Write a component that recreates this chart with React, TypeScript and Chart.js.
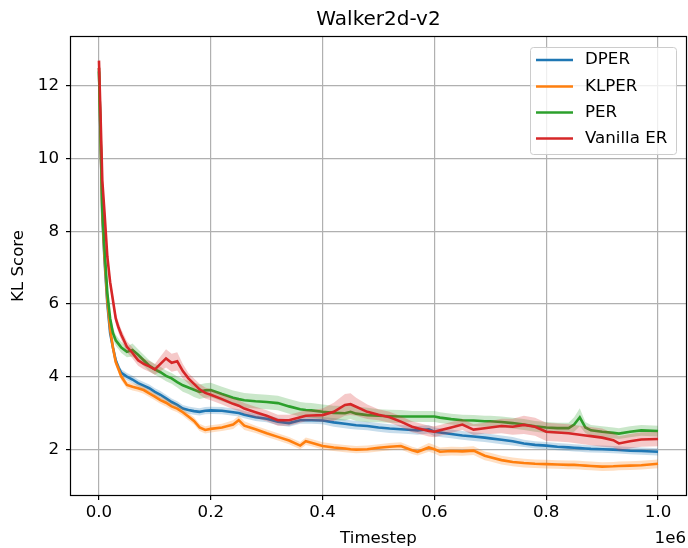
import React, { useEffect, useRef } from "react";
import { Chart, registerables } from "chart.js";
Chart.register(...registerables);

const timesteps = [
  0, 3000, 6000, 10000, 15000, 20000, 25000, 30000, 35000, 40000,
  50000, 60000, 70000, 80000, 90000, 100000, 110000, 120000, 130000, 140000,
  150000, 160000, 170000, 180000, 190000, 200000, 220000, 240000, 250000, 260000,
  280000, 300000, 320000, 340000, 360000, 370000, 380000, 400000, 420000, 440000,
  450000, 460000, 480000, 500000, 520000, 540000, 560000, 570000, 590000, 600000,
  610000, 630000, 650000, 670000, 690000, 700000, 720000, 740000, 760000, 780000,
  800000, 820000, 840000, 850000, 860000, 870000, 880000, 900000, 920000, 930000,
  950000, 970000, 1000000,
];

const dperMean = [
  12.5, 10.5, 8.4, 7.2, 6.0, 5.2, 4.8, 4.45, 4.25, 4.1,
  4.0, 3.92, 3.82, 3.75, 3.68, 3.58, 3.5, 3.4, 3.3, 3.22,
  3.12, 3.08, 3.05, 3.03, 3.06, 3.07, 3.06, 3.02, 3.0, 2.95,
  2.88, 2.84, 2.76, 2.72, 2.8, 2.8, 2.8, 2.79, 2.74, 2.7,
  2.68, 2.66, 2.64, 2.6, 2.57, 2.55, 2.53, 2.52, 2.55, 2.48,
  2.46, 2.42, 2.38, 2.35, 2.32, 2.3, 2.26, 2.22, 2.16, 2.12,
  2.1, 2.07, 2.05, 2.04, 2.03, 2.02, 2.01, 2.0, 1.99, 1.98,
  1.96, 1.95, 1.93,
];
const dperStd = [
  0.1, 0.3, 0.3, 0.25, 0.2, 0.15, 0.12, 0.1, 0.1, 0.1,
  0.1, 0.1, 0.1, 0.1, 0.1, 0.1, 0.1, 0.1, 0.1, 0.1,
  0.1, 0.1, 0.1, 0.1, 0.1, 0.1, 0.1, 0.1, 0.1, 0.1,
  0.1, 0.1, 0.1, 0.1, 0.1, 0.1, 0.1, 0.1, 0.12, 0.12,
  0.12, 0.12, 0.12, 0.12, 0.12, 0.12, 0.12, 0.12, 0.12, 0.12,
  0.12, 0.12, 0.12, 0.12, 0.12, 0.12, 0.12, 0.12, 0.1, 0.1,
  0.1, 0.1, 0.1, 0.1, 0.1, 0.1, 0.1, 0.1, 0.1, 0.1,
  0.1, 0.1, 0.1,
];

const klperMean = [
  12.5, 10.5, 8.5, 7.3, 6.1, 5.3, 4.8, 4.4, 4.2, 4.0,
  3.77, 3.72, 3.68, 3.63, 3.54, 3.45, 3.35, 3.28, 3.18, 3.12,
  3.02, 2.9, 2.78, 2.6, 2.53, 2.56, 2.6, 2.68, 2.8, 2.65,
  2.55, 2.44, 2.34, 2.24, 2.1, 2.22, 2.18, 2.09, 2.05, 2.02,
  2.0, 1.99, 2.0, 2.04, 2.07, 2.09, 1.97, 1.93, 2.05, 2.0,
  1.93, 1.95, 1.94, 1.96, 1.82, 1.78, 1.7, 1.65, 1.62, 1.6,
  1.59, 1.58, 1.57, 1.57, 1.56, 1.55, 1.54, 1.52, 1.53, 1.54,
  1.55, 1.56, 1.6,
];
const klperStd = [
  0.1, 0.3, 0.3, 0.25, 0.2, 0.15, 0.12, 0.1, 0.1, 0.1,
  0.1, 0.1, 0.1, 0.1, 0.1, 0.1, 0.1, 0.1, 0.1, 0.1,
  0.1, 0.1, 0.1, 0.1, 0.1, 0.1, 0.1, 0.12, 0.12, 0.12,
  0.1, 0.1, 0.1, 0.1, 0.1, 0.1, 0.1, 0.1, 0.1, 0.1,
  0.1, 0.1, 0.1, 0.1, 0.1, 0.1, 0.1, 0.1, 0.12, 0.12,
  0.12, 0.12, 0.12, 0.12, 0.12, 0.12, 0.12, 0.12, 0.12, 0.12,
  0.12, 0.12, 0.12, 0.12, 0.12, 0.12, 0.12, 0.12, 0.12, 0.12,
  0.12, 0.12, 0.12,
];

const perMean = [
  12.4, 10.6, 8.6, 7.5, 6.3, 5.6, 5.2, 5.0, 4.9, 4.8,
  4.68, 4.73, 4.6, 4.45, 4.3, 4.2, 4.12, 4.02, 3.95, 3.85,
  3.76, 3.7, 3.64, 3.58, 3.62, 3.63, 3.52, 3.42, 3.38, 3.35,
  3.32, 3.3, 3.27, 3.18, 3.1, 3.08, 3.07, 3.03, 3.0, 2.99,
  3.03, 2.98, 2.94, 2.92, 2.91, 2.9, 2.9, 2.9, 2.9, 2.9,
  2.87, 2.83, 2.8, 2.79, 2.77, 2.77, 2.75, 2.72, 2.68, 2.63,
  2.6, 2.58, 2.58, 2.68, 2.88, 2.6, 2.52, 2.48, 2.45, 2.43,
  2.48, 2.52, 2.5,
];
const perStd = [
  0.1, 0.3, 0.3, 0.25, 0.2, 0.15, 0.15, 0.15, 0.15, 0.15,
  0.15, 0.18, 0.15, 0.15, 0.15, 0.15, 0.15, 0.15, 0.15, 0.15,
  0.18, 0.18, 0.2, 0.2, 0.2, 0.2, 0.2, 0.2, 0.2, 0.2,
  0.2, 0.2, 0.2, 0.2, 0.2, 0.2, 0.2, 0.2, 0.2, 0.2,
  0.2, 0.2, 0.2, 0.18, 0.18, 0.18, 0.15, 0.15, 0.15, 0.15,
  0.15, 0.15, 0.15, 0.15, 0.15, 0.15, 0.15, 0.15, 0.15, 0.15,
  0.15, 0.15, 0.15, 0.2, 0.25, 0.15, 0.15, 0.15, 0.15, 0.15,
  0.15, 0.15, 0.15,
];

const vanillaMean = [
  12.7, 11.1, 9.4, 8.5, 7.3, 6.6, 6.1, 5.6, 5.35, 5.15,
  4.82, 4.65, 4.45, 4.35, 4.28, 4.2, 4.35, 4.5, 4.38, 4.42,
  4.15, 3.95, 3.8, 3.65, 3.55, 3.5, 3.38, 3.25, 3.2, 3.12,
  3.02, 2.92, 2.8, 2.8, 2.88, 2.92, 2.93, 2.94, 3.03, 3.22,
  3.24, 3.17, 3.03, 2.95, 2.88, 2.76, 2.62, 2.58, 2.5, 2.48,
  2.52, 2.6, 2.68, 2.54, 2.58, 2.6, 2.64, 2.62, 2.67, 2.62,
  2.48, 2.46, 2.44, 2.42, 2.4, 2.38, 2.36, 2.32, 2.25, 2.16,
  2.22, 2.27, 2.28,
];
const vanillaStd = [
  0.1, 0.3, 0.3, 0.25, 0.2, 0.15, 0.15, 0.15, 0.15, 0.15,
  0.15, 0.15, 0.15, 0.15, 0.15, 0.15, 0.2, 0.25, 0.25, 0.25,
  0.2, 0.15, 0.15, 0.15, 0.15, 0.15, 0.15, 0.15, 0.15, 0.15,
  0.15, 0.15, 0.15, 0.15, 0.15, 0.15, 0.15, 0.18, 0.25, 0.3,
  0.3, 0.25, 0.2, 0.15, 0.15, 0.15, 0.15, 0.15, 0.15, 0.15,
  0.15, 0.15, 0.15, 0.15, 0.15, 0.18, 0.2, 0.22, 0.25, 0.25,
  0.25, 0.25, 0.25, 0.25, 0.25, 0.25, 0.25, 0.25, 0.2, 0.2,
  0.2, 0.2, 0.2,
];

const seriesNames = ["DPER", "KLPER", "PER", "Vanilla ER"];
const seriesColors = ["#1f77b4", "#ff7f0e", "#2ca02c", "#d62728"];
const bandColors = [
  "rgba(31,119,180,0.25)",
  "rgba(255,127,14,0.25)",
  "rgba(44,160,44,0.25)",
  "rgba(214,39,40,0.25)",
];
const means = [dperMean, klperMean, perMean, vanillaMean];
const stds = [dperStd, klperStd, perStd, vanillaStd];

const xTickValues = [0, 200000, 400000, 600000, 800000, 1000000];
const yTickValues = [2, 4, 6, 8, 10, 12];

const titleText = "Walker2d-v2";
const xLabel = "Timestep";
const yLabel = "KL Score";
const offsetText = "1e6";

const FONT = "'DejaVu Sans', sans-serif";
const FS = 16.67;

const decoPlugin = {
  id: "deco",
  afterDatasetsDraw(chart: any) {
    const { ctx, chartArea: a } = chart;
    ctx.save();
    ctx.strokeStyle = "#000";
    ctx.lineWidth = 1.2;
    ctx.strokeRect(Math.round(a.left) - 0.5, Math.round(a.top) - 0.5, Math.round(a.right - a.left) + 1, Math.round(a.bottom - a.top) + 1);
    ctx.restore();
  },
  afterDraw(chart: any) {
    const { ctx, chartArea: a } = chart;
    ctx.save();
    ctx.fillStyle = "#000";
    ctx.font = `20px ${FONT}`;
    ctx.textAlign = "center";
    ctx.textBaseline = "middle";
    ctx.fillText(titleText, (a.left + a.right) / 2, 20);
    ctx.font = `${FS}px ${FONT}`;
    ctx.fillText(xLabel, (a.left + a.right) / 2, 539);
    ctx.textAlign = "right";
    ctx.fillText(offsetText, a.right, 539);
    ctx.save();
    ctx.translate(19, (a.top + a.bottom) / 2);
    ctx.rotate(-Math.PI / 2);
    ctx.textAlign = "center";
    ctx.fillText(yLabel, 0, 0);
    ctx.restore();

    // legend
    const bx = 530.5, by = 47.5, bw = 146, bh = 107, r = 3;
    ctx.beginPath();
    ctx.moveTo(bx + r, by);
    ctx.lineTo(bx + bw - r, by);
    ctx.quadraticCurveTo(bx + bw, by, bx + bw, by + r);
    ctx.lineTo(bx + bw, by + bh - r);
    ctx.quadraticCurveTo(bx + bw, by + bh, bx + bw - r, by + bh);
    ctx.lineTo(bx + r, by + bh);
    ctx.quadraticCurveTo(bx, by + bh, bx, by + bh - r);
    ctx.lineTo(bx, by + r);
    ctx.quadraticCurveTo(bx, by, bx + r, by);
    ctx.closePath();
    ctx.fillStyle = "rgba(255,255,255,0.8)";
    ctx.fill();
    ctx.strokeStyle = "#cccccc";
    ctx.lineWidth = 1;
    ctx.stroke();

    const rowY = [60, 86.5, 112.5, 138.5];
    seriesNames.forEach((name, i) => {
      ctx.strokeStyle = seriesColors[i];
      ctx.lineWidth = 2.5;
      ctx.beginPath();
      ctx.moveTo(536, rowY[i]);
      ctx.lineTo(573, rowY[i]);
      ctx.stroke();
      ctx.fillStyle = "#000";
      ctx.font = `${FS}px ${FONT}`;
      ctx.textAlign = "left";
      ctx.textBaseline = "middle";
      ctx.fillText(name, 585, rowY[i]);
    });
    ctx.restore();
  },
};

export default function App() {
  const canvasRef = useRef<HTMLCanvasElement | null>(null);

  useEffect(() => {
    const canvas = canvasRef.current;
    if (!canvas) return;
    const datasets: any[] = [];
    seriesNames.forEach((name, i) => {
      const base = i * 3;
      datasets.push({
        label: name,
        data: timesteps.map((t, k) => ({ x: t, y: means[i][k] })),
        borderColor: seriesColors[i],
        backgroundColor: seriesColors[i],
        borderWidth: 2.6,
        pointRadius: 0,
        tension: 0,
        fill: false,
        order: 100 - base,
      });
      datasets.push({
        label: "_upper",
        data: timesteps.map((t, k) => ({ x: t, y: means[i][k] + stds[i][k] })),
        borderColor: "rgba(0,0,0,0)",
        backgroundColor: bandColors[i],
        borderWidth: 0,
        pointRadius: 0,
        tension: 0,
        fill: { target: "+1" },
        order: 100 - base - 1,
      });
      datasets.push({
        label: "_lower",
        data: timesteps.map((t, k) => ({ x: t, y: means[i][k] - stds[i][k] })),
        borderColor: "rgba(0,0,0,0)",
        backgroundColor: bandColors[i],
        borderWidth: 0,
        pointRadius: 0,
        tension: 0,
        fill: false,
        order: 100 - base - 2,
      });
    });

    const tickFont = { family: "'DejaVu Sans', sans-serif", size: FS };
    const chart = new Chart(canvas, {
      type: "line",
      data: { datasets },
      plugins: [decoPlugin],
      options: {
        animation: false,
        responsive: false,
        devicePixelRatio: 1,
        layout: { autoPadding: false, padding: { top: 37, right: 2, left: 0, bottom: 0 } },
        plugins: {
          legend: { display: false },
          title: { display: false },
          tooltip: { enabled: false },
        },
        scales: {
          x: {
            type: "linear",
            min: -50000,
            max: 1050000,
            afterBuildTicks: (scale: any) => {
              scale.ticks = xTickValues.map((v) => ({ value: v }));
            },
            afterFit: (scale: any) => {
              scale.height = 53;
            },
            ticks: {
              autoSkip: false,
              maxRotation: 0,
              minRotation: 0,
              padding: 3,
              color: "#000",
              font: tickFont,
              callback: (v: any) => (Number(v) / 1e6).toFixed(1),
            },
            grid: {
              color: "#b0b0b0",
              lineWidth: 1.2,
              tickColor: "#000",
              tickLength: 5,
              tickWidth: 1.2,
            },
            border: { display: false },
          },
          y: {
            type: "linear",
            min: 0.74,
            max: 13.35,
            afterBuildTicks: (scale: any) => {
              scale.ticks = yTickValues.map((v) => ({ value: v }));
            },
            afterFit: (scale: any) => {
              scale.width = 71;
            },
            ticks: {
              padding: 7,
              color: "#000",
              font: tickFont,
              callback: (v: any) => String(v),
            },
            grid: {
              color: "#b0b0b0",
              lineWidth: 1.2,
              tickColor: "#000",
              tickLength: 5,
              tickWidth: 1.2,
            },
            border: { display: false },
          },
        },
      } as any,
    });
    return () => chart.destroy();
  }, []);

  return (
    <div style={{ position: "fixed", left: 0, top: 0, width: 688, height: 548, background: "#fff" }}>
      <canvas ref={canvasRef} width={688} height={548} style={{ width: 688, height: 548, display: "block" }} />
    </div>
  );
}
